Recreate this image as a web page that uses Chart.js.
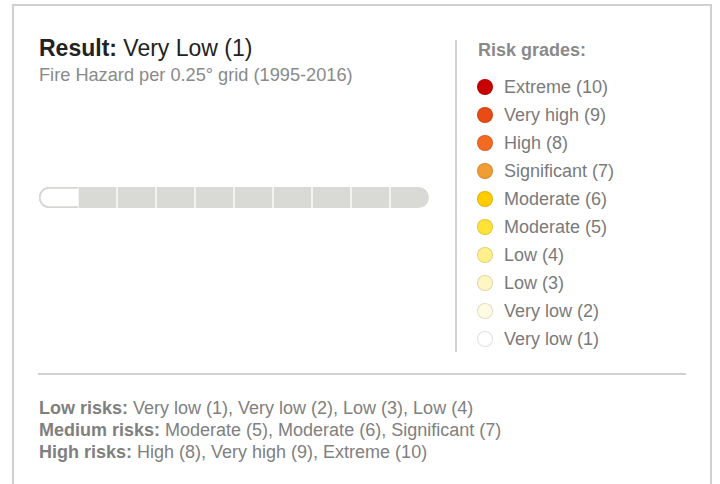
<!DOCTYPE html>
<html>
<head>
<meta charset="utf-8">
<script src="https://cdn.jsdelivr.net/npm/chart.js@4"></script>
<style>
  html, body { margin: 0; padding: 0; background: #fff; }
  body { width: 720px; height: 484px; overflow: hidden; position: relative; font-family: "Liberation Sans", Arial, sans-serif; }
  .frame { position: absolute; left: 12px; top: 4px; width: 696px; height: 520px; border: 2px solid #d0d0d0; }
  .title { position: absolute; left: 39px; top: 35px; font-size: 23px; line-height: 26px; color: #222; white-space: nowrap; }
  .sub { position: absolute; left: 39px; top: 64px; font-size: 18.2px; line-height: 22px; color: #8a8a8a; white-space: nowrap; }
  .barbox { position: absolute; left: 36px; top: 184px; width: 396px; height: 27px; }
  .vline { position: absolute; left: 455px; top: 40px; width: 2px; height: 312px; background: #d0d0d0; }
  .hline { position: absolute; left: 38px; top: 373px; width: 648px; height: 2px; background: #d0d0d0; }
  .legtitle { position: absolute; left: 478px; top: 39px; font-size: 18px; line-height: 22px; font-weight: bold; color: #8a8a8a; }
  .legend { position: absolute; left: 476px; top: 73px; }
  .legend div { height: 28px; line-height: 28px; font-size: 18px; color: #7a7a7a; white-space: nowrap; position: relative; padding-left: 28px; }
  .legend span { position: absolute; left: 1px; top: 6px; width: 14px; height: 14px; border-radius: 50%; border: 1px solid rgba(0,0,0,0.12); }
  .notes { position: absolute; left: 39px; top: 397px; font-size: 18px; line-height: 22px; color: #808080; white-space: nowrap; }
  .notes b { color: #808080; }
</style>
</head>
<body>
<div class="frame"></div>
<div class="title"><b>Result:</b> <span id="resultText"></span></div>
<div class="sub">Fire Hazard per 0.25° grid (1995-2016)</div>
<div class="barbox"><canvas id="hazardBar"></canvas></div>
<div class="vline"></div>
<div class="legtitle">Risk grades:</div>
<div class="legend" id="legend"></div>
<div class="hline"></div>
<div class="notes" id="notes"></div>
<script>
// risk grades, 1 (lowest) .. 10 (highest)
const gradeValues = [1, 2, 3, 4, 5, 6, 7, 8, 9, 10];
const gradeNames = ['Very low', 'Very low', 'Low', 'Low', 'Moderate', 'Moderate', 'Significant', 'High', 'Very high', 'Extreme'];
const gradeColors = ['#ffffff', '#fffbe3', '#fff6c4', '#fff08c', '#ffe236', '#ffcc00', '#f19d34', '#f56a22', '#e84b14', '#c80000'];
const resultGrade = 1;
const resultName = 'Very Low';
const emptyColor = '#d9d9d5';

const lowRisks = [1, 2, 3, 4];
const mediumRisks = [5, 6, 7];
const highRisks = [8, 9, 10];

const gradeLabel = (v) => gradeNames[v - 1] + ' (' + v + ')';

document.getElementById('resultText').textContent = resultName + ' (' + resultGrade + ')';

// legend, highest grade first
const legend = document.getElementById('legend');
gradeValues.slice().reverse().forEach((v) => {
    const row = document.createElement('div');
    const dot = document.createElement('span');
    dot.style.background = gradeColors[v - 1];
    row.appendChild(dot);
    row.appendChild(document.createTextNode(gradeLabel(v)));
    legend.appendChild(row);
});

document.getElementById('notes').innerHTML =
    '<b>Low risks:</b> ' + lowRisks.map(gradeLabel).join(', ') + '<br>' +
    '<b>Medium risks:</b> ' + mediumRisks.map(gradeLabel).join(', ') + '<br>' +
    '<b>High risks:</b> ' + highRisks.map(gradeLabel).join(', ');

const last = gradeValues.length;
new Chart(document.getElementById('hazardBar'), {
    type: 'bar',
    data: {
        labels: ['grade'],
        datasets: gradeValues.map((v) => ({
            label: gradeLabel(v),
            data: [1],
            backgroundColor: v <= resultGrade ? gradeColors[v - 1] : emptyColor,
            borderColor: v === 1 ? '#d6d6d2' : '#ffffff',
            borderWidth: v === 1 ? { top: 2, bottom: 2, left: 2, right: 0 } : { top: 0, bottom: 0, left: 1, right: v === last ? 0 : 1 },
            borderSkipped: false,
            borderRadius: v === 1 ? { topLeft: 11, bottomLeft: 11, topRight: 0, bottomRight: 0 }
                : v === last ? { topLeft: 0, bottomLeft: 0, topRight: 11, bottomRight: 11 } : 0,
            barPercentage: 1,
            categoryPercentage: 1,
        }))
    },
    options: {
        indexAxis: 'y',
        responsive: true,
        maintainAspectRatio: false,
        animation: false,
        layout: { padding: { left: 3, right: 3, top: 3, bottom: 3 } },
        scales: {
            x: { stacked: true, display: false, min: 0, max: last },
            y: { stacked: true, display: false }
        },
        plugins: {
            legend: { display: false },
            tooltip: { enabled: false }
        }
    }
});
</script>
</body>
</html>
